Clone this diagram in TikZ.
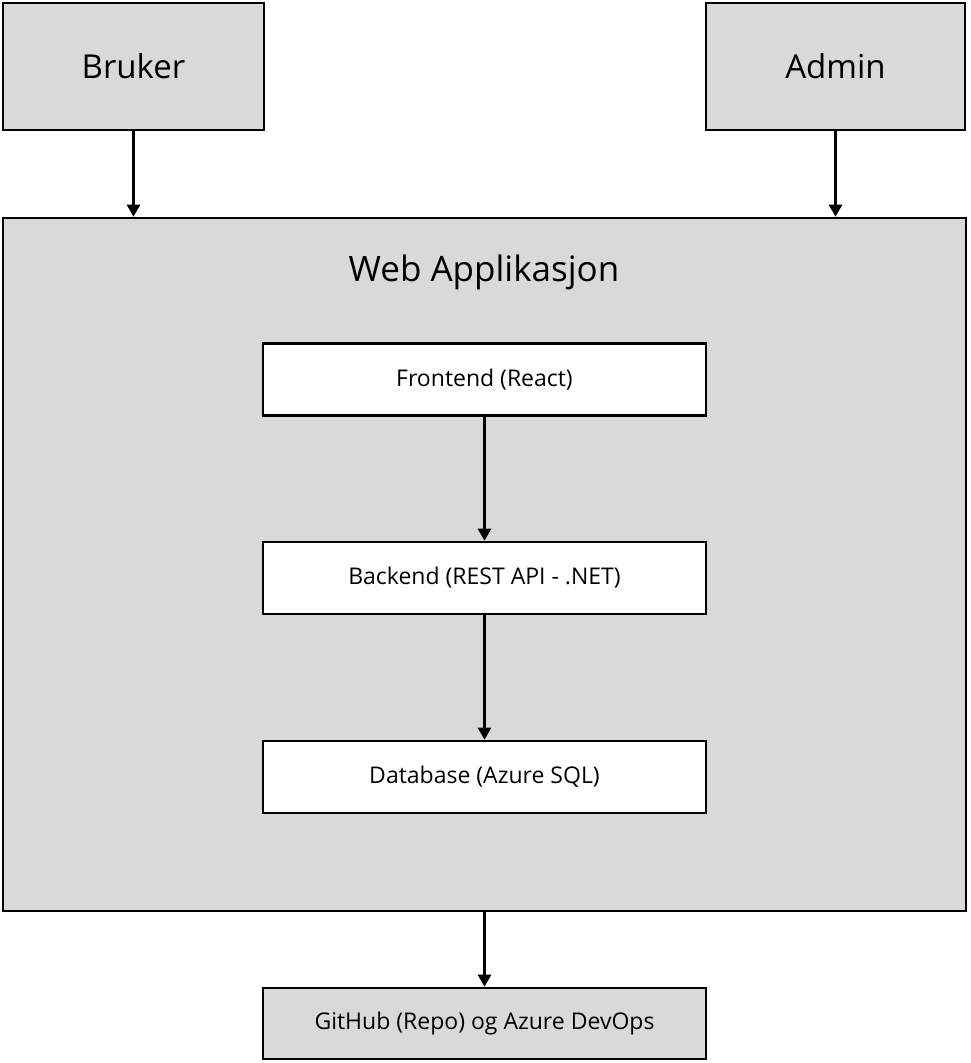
\documentclass[tikz,border=0pt]{standalone}
\usepackage{fontspec}
\setmainfont{Open Sans}
\usetikzlibrary{arrows.meta, positioning}
\definecolor{boxgray}{HTML}{D9D9D9}

\begin{document}
\begin{tikzpicture}[x=1pt,y=-1pt,line width=2.6pt,
  actor/.style={draw,fill=boxgray,minimum height=127pt,font=\fontsize{33}{38}\selectfont},
  part/.style={draw,fill=white,minimum width=443pt,minimum height=72pt,font=\fontsize{23}{27}\selectfont},
  flow/.style={-{Triangle[width=13pt,length=12pt]}}]
\useasboundingbox (0,0) rectangle (970,1063);

\node[actor,minimum width=261pt] (bruker) at (133.5,66.5) {Bruker};
\node[actor,minimum width=259pt] (admin) at (835.5,66.5) {Admin};

\node[draw,fill=boxgray,minimum width=963pt,minimum height=693pt] (web) at (484.5,564.5) {};
\node[font=\fontsize{35}{40}\selectfont] (webtitle) at (484,272) {Web Applikasjon};

\node[part] (frontend) at (484.5,379.5) {Frontend (React)};
\node[part] (backend) at (484.5,578) {Backend (REST API - .NET)};
\node[part] (database) at (484.5,777) {Database (Azure SQL)};

\node[part,fill=boxgray,minimum height=71pt] (devops) at (484.5,1023.5) {GitHub (Repo) og Azure DevOps};

\draw[flow] (bruker) -- (bruker |- web.north);
\draw[flow] (admin) -- (admin |- web.north);
\draw[flow] (frontend) -- (backend);
\draw[flow] (backend) -- (database);
\draw[flow] (web.south) -- (devops);
\end{tikzpicture}
\end{document}
